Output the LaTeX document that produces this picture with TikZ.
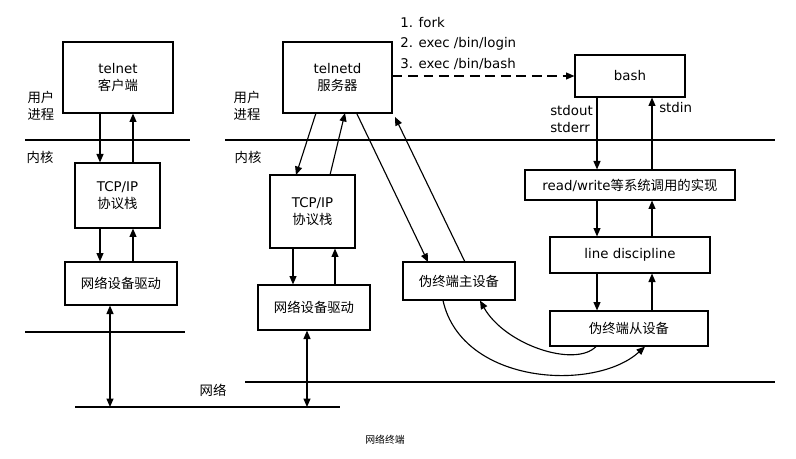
\documentclass[tikz,border=0pt]{standalone}
\usepackage{fontspec}
\setmainfont{DejaVu Sans}
\newfontfamily\cjk{Noto Sans CJK SC}
\usetikzlibrary{arrows.meta}
\begin{document}
\begin{tikzpicture}[x=0.025cm,y=-0.025cm,
  every node/.style={font=\fontsize{9.5}{12}\selectfont, align=center},
  box/.style={draw, thick, inner sep=0pt},
  arr/.style={thick, -{Triangle[length=6pt,width=5pt]}},
  darr/.style={thick, {Triangle[length=6pt,width=5pt]}-{Triangle[length=6pt,width=5pt]}},
  lbl/.style={align=left, inner sep=0pt}]
\useasboundingbox (0,0) rectangle (796,459);
% left side
\node[box, minimum width=110*0.025cm, minimum height=71*0.025cm] (tc) at (118,77.5) {telnet\\{\cjk 客户端}};
\node[box, minimum width=85*0.025cm, minimum height=65*0.025cm] (tcp1) at (117.5,195.5) {TCP/IP\\{\cjk 协议栈}};
\node[box, minimum width=112*0.025cm, minimum height=43*0.025cm] (drv1) at (121,283.5) {\cjk 网络设备驱动};
\node[lbl] (u1) at (41,106) {\cjk 用户\\\cjk 进程};
\node[lbl] (k1) at (40,157) {\cjk 内核};
\coordinate (l1a) at (25,140); \coordinate (l1b) at (190,140);
\draw[thick] (l1a) -- (l1b);
\coordinate (l2a) at (25,332); \coordinate (l2b) at (185,332);
\draw[thick] (l2a) -- (l2b);
\coordinate (n1a) at (75,407); \coordinate (n1b) at (340,407);
\draw[thick] (n1a) -- (n1b);
\node (net) at (213,390) {\cjk 网络};
\draw[arr] (tc.south -| 100,0) -- (tcp1.north -| 100,0);
\draw[arr] (tcp1.north -| 133,0) -- (tc.south -| 133,0);
\draw[arr] (tcp1.south -| 100,0) -- (drv1.north -| 100,0);
\draw[arr] (drv1.north -| 133,0) -- (tcp1.south -| 133,0);
\draw[darr] (drv1.south -| 110,0) -- (110,407);
% right side
\node[box, minimum width=109*0.025cm, minimum height=71*0.025cm] (td) at (337.5,77.5) {telnetd\\{\cjk 服务器}};
\node[lbl] (u2) at (247,106) {\cjk 用户\\\cjk 进程};
\node[lbl] (k2) at (248,157) {\cjk 内核};
\coordinate (l3a) at (225,140); \coordinate (l3b) at (775,140);
\draw[thick] (l3a) -- (l3b);
\coordinate (l4a) at (245,382); \coordinate (l4b) at (775,382);
\draw[thick] (l4a) -- (l4b);
\node[box, minimum width=85*0.025cm, minimum height=73*0.025cm] (tcp2) at (312.5,211.5) {TCP/IP\\{\cjk 协议栈}};
\node[box, minimum width=112*0.025cm, minimum height=45*0.025cm] (drv2) at (314,307.5) {\cjk 网络设备驱动};
\draw[arr] (316,113) -- (296,175);
\draw[arr] (330,175) -- (345,113);
\draw[arr] (tcp2.south -| 293,0) -- (drv2.north -| 293,0);
\draw[arr] (drv2.north -| 335,0) -- (tcp2.south -| 335,0);
\draw[darr] (drv2.south -| 307,0) -- (307,407);
\node[box, minimum width=112*0.025cm, minimum height=38*0.025cm] (ms) at (459,281) {\cjk 伪终端主设备};
\draw[arr] (357,114) -- (428,262);
\draw[arr] (465,262) -- (395,117);
\node[box, minimum width=110*0.025cm, minimum height=42*0.025cm] (bash) at (630,76) {bash};
\draw[thick, dash pattern=on 7pt off 4pt, -{Triangle[length=6pt,width=5pt]}] (td.east |- bash.west) -- (bash.west);
\node[lbl, anchor=west] (s1) at (400,23) {1. fork};
\node[lbl, anchor=west] (s2) at (400,44) {2. exec /bin/login};
\node[lbl, anchor=west] (s3) at (400,64) {3. exec /bin/bash};
\node[lbl, anchor=west] (so) at (550,119) {stdout\\stderr};
\node[lbl, anchor=west] (si) at (659,108) {stdin};
\node[box, minimum width=210*0.025cm, minimum height=30*0.025cm] (rw) at (630,185) {read/write{\cjk 等系统调用的实现}};
\node[box, minimum width=160*0.025cm, minimum height=36*0.025cm] (ld) at (630,255) {line discipline};
\node[box, minimum width=158*0.025cm, minimum height=35*0.025cm] (sl) at (629,328.5) {\cjk 伪终端从设备};
\draw[arr] (bash.south -| 597,0) -- (rw.north -| 597,0);
\draw[arr] (rw.north -| 652,0) -- (bash.south -| 652,0);
\draw[arr] (rw.south -| 597,0) -- (ld.north -| 597,0);
\draw[arr] (ld.north -| 652,0) -- (rw.south -| 652,0);
\draw[arr] (ld.south -| 597,0) -- (sl.north -| 597,0);
\draw[arr] (sl.north -| 652,0) -- (ld.south -| 652,0);
\draw[arr] (ms.south -| 443,0) .. controls (462,385) and (595,392) .. (sl.south -| 645,0);
\draw[arr] (sl.south -| 596,0) .. controls (575,368) and (505,345) .. (ms.south -| 480,0);
\node (cap) at (385,440) {\fontsize{7}{8}\selectfont\cjk 网络终端};
\end{tikzpicture}
\end{document}
